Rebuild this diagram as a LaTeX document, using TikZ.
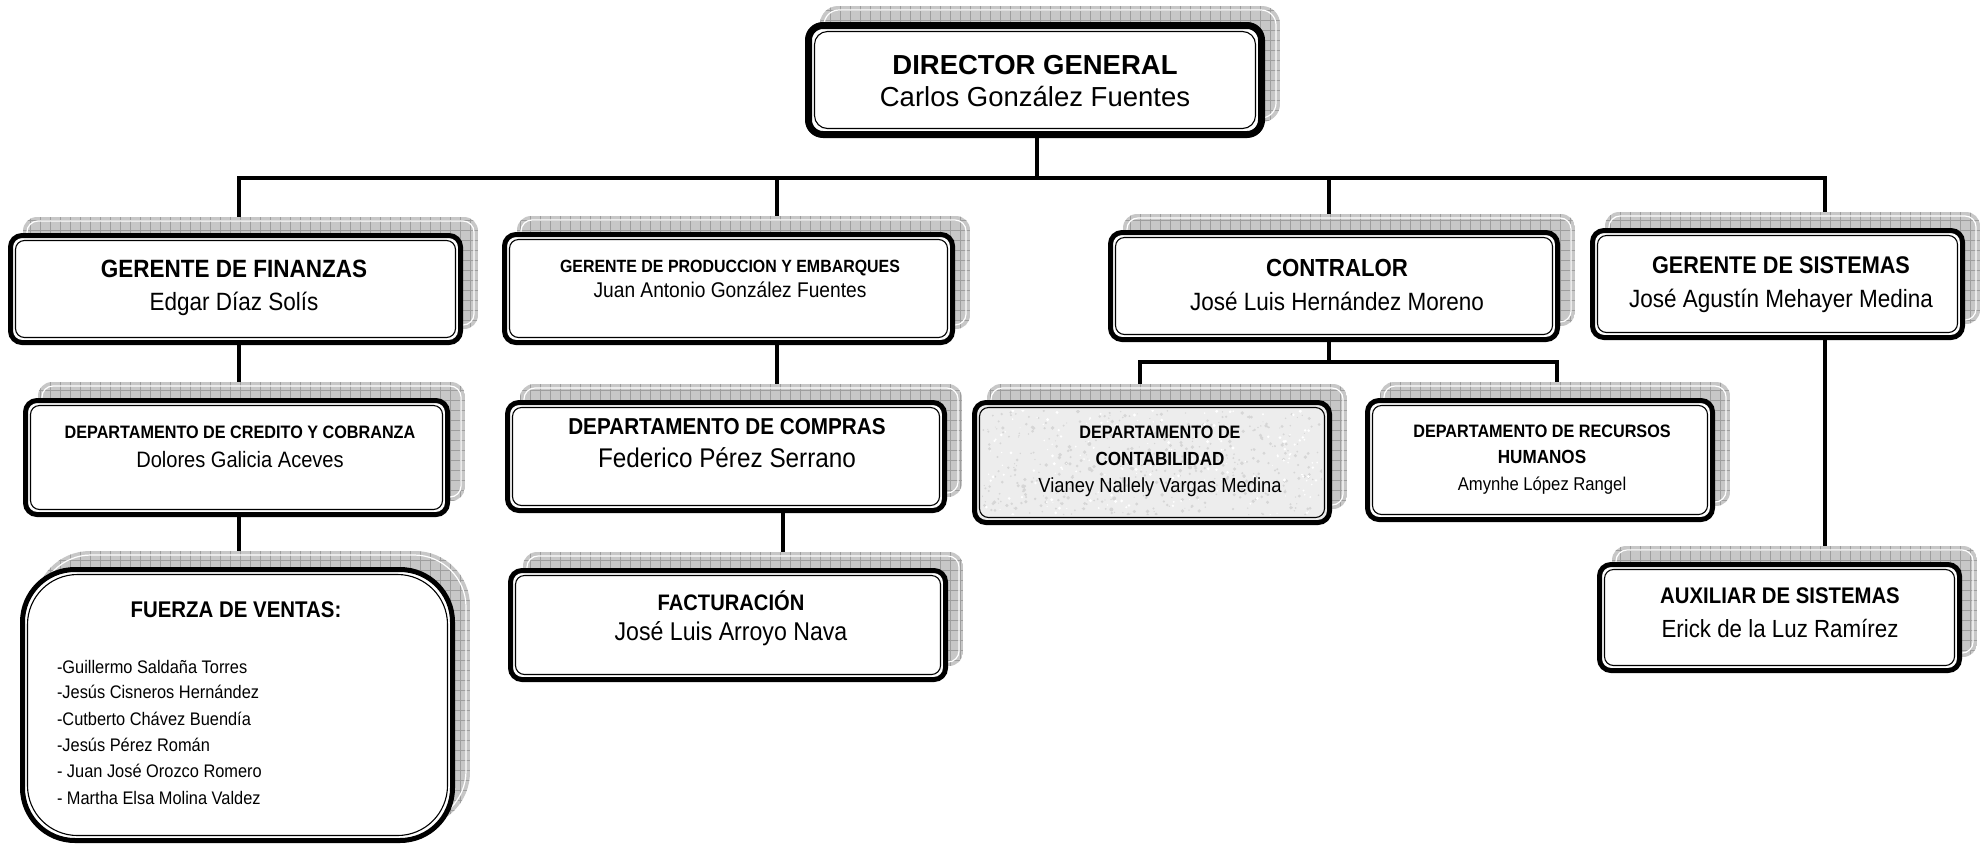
\documentclass[tikz,border=0pt]{standalone}
\usepackage{fontspec}
\setmainfont{Liberation Sans}
\newfontfamily\narrow{Liberation Sans}[FakeStretch=0.9]
\pgfdeclarelayer{bg}
\pgfdeclarelayer{back}
\pgfsetlayers{bg,back,main}
\tikzset{
  obox/.style={draw=black, shape=rectangle, inner sep=0pt, outer sep=0pt},
  conn/.style={draw=black, line width=4},
  txt/.style={anchor=base, inner sep=0pt, outer sep=0pt, font=\narrow},
  ltxt/.style={anchor=base west, inner sep=0pt, outer sep=0pt, font=\narrow},
}
% #1 name, #2 x1, #3 y1, #4 x2, #5 y2, #6 radius, #7 outer line width, #8 fill
\newcommand\orgbox[8]{%
  \begin{scope}
    \clip[rounded corners=#6] ({#2+15},{#3-16}) rectangle ({#4+15},{#5-16});
    \fill[black!22] ({#2+15},{#3-16}) rectangle ({#4+15},{#5-16});
    \draw[black!38, line width=0.7, step=10pt] ({#2+15},{#3-16}) grid ({#4+15},{#5-16});
    \draw[white, line width=1.2, rounded corners={#6-3}] ({#2+19},{#3-12}) rectangle ({#4+11},{#5-20});
  \end{scope}
  \node[obox, line width=#7, rounded corners={#6-#7/2}, fill=#8,
        minimum width={#4-#2-#7}, minimum height={#5-#3-#7}] (#1) at ({(#2+#4)/2},{(#3+#5)/2}) {};
  \draw[line width=1.1, rounded corners={#6-5}]
     ([shift={(#7/2+2.5,#7/2+2.5)}]#1.north west) rectangle ([shift={(-#7/2-2.5,-#7/2-2.5)}]#1.south east);
}
\begin{document}
\begin{tikzpicture}[x=1pt,y=-1pt]
\useasboundingbox (0,0) rectangle (1983,847);
\begin{pgfonlayer}{bg}
\fill[white] (0,0) rectangle (1983,847);
\end{pgfonlayer}

% boxes
\orgbox{dir}{805}{22}{1265}{138}{18}{7}{white}
\orgbox{fin}{8}{233}{463}{345}{14}{5}{white}
\orgbox{prod}{502}{232}{955}{345}{14}{5}{white}
\orgbox{contr}{1108}{230}{1560}{342}{14}{5}{white}
\orgbox{sis}{1590}{228}{1965}{340}{14}{5}{white}
\orgbox{cred}{23}{398}{450}{517}{14}{5}{white}
\orgbox{comp}{505}{400}{947}{513}{14}{5}{white}
\orgbox{contab}{972}{400}{1332}{525}{14}{5}{black!7}
\begin{scope}
  \clip[rounded corners=8] (982,410) rectangle (1322,515);
  \pgfmathsetseed{7}
  \foreach \i in {1,...,450}{\fill[black!16] ({982+rnd*340},{410+rnd*105}) circle ({0.5+rnd*1.5});}
  \foreach \i in {1,...,200}{\fill[white] ({982+rnd*340},{410+rnd*105}) circle ({0.5+rnd*1.2});}
\end{scope}
\orgbox{rh}{1365}{398}{1715}{522}{14}{5}{white}
\orgbox{fact}{508}{568}{948}{682}{14}{5}{white}
\orgbox{aux}{1597}{562}{1962}{673}{14}{5}{white}
\orgbox{fv}{20}{567}{455}{843}{55}{5}{white}

% connector coordinates
\coordinate (bD) at (1037,178);
\coordinate (bF) at (239,178);
\coordinate (bP) at (777,178);
\coordinate (bC) at (1329,178);
\coordinate (bS) at (1825,178);
\coordinate (kA) at (1140,362);
\coordinate (kB) at (1557,362);
\coordinate (kC) at (1329,362);
\coordinate (xF) at (783,600);

\begin{pgfonlayer}{back}
  \draw[conn] (bD |- dir.south) -- (bD);
  \draw[conn] (bF |- fin.north) -- (bF) -- (bS) -- (bS |- sis.north);
  \draw[conn] (bP) -- (bP |- prod.north);
  \draw[conn] (bC) -- (bC |- contr.north);
  \draw[conn] (bF |- fin.south) -- (bF |- cred.north);
  \draw[conn] (bF |- cred.south) -- (bF |- fv.north);
  \draw[conn] (bP |- prod.south) -- (bP |- comp.north);
  \draw[conn] (xF |- comp.south) -- (xF |- fact.north);
  \draw[conn] (kC |- contr.south) -- (kC);
  \draw[conn] (kA |- contab.north) -- (kA) -- (kB) -- (kB |- rh.north);
  \draw[conn] (bS |- sis.south) -- (bS |- aux.north);
\end{pgfonlayer}

% texts
\node[txt, font=\rmfamily\bfseries\fontsize{27.5}{30}\selectfont] (dir-a) at (1035,74) {DIRECTOR GENERAL};
\node[txt, font=\rmfamily\fontsize{27.5}{30}\selectfont] (dir-b) at (1035,106) {Carlos González Fuentes};

\node[txt, font=\narrow\bfseries\fontsize{25}{30}\selectfont] (fin-a) at (234,277) {GERENTE DE FINANZAS};
\node[txt, font=\narrow\fontsize{25}{30}\selectfont] (fin-b) at (234,310) {Edgar Díaz Solís};

\node[txt, font=\narrow\bfseries\fontsize{17.7}{20}\selectfont] (prod-a) at (730,272) {GERENTE DE PRODUCCION Y EMBARQUES};
\node[txt, font=\narrow\fontsize{21.3}{24}\selectfont] (prod-b) at (730,297) {Juan Antonio González Fuentes};

\node[txt, font=\narrow\bfseries\fontsize{24.7}{30}\selectfont] (contr-a) at (1337,276) {CONTRALOR};
\node[txt, font=\narrow\fontsize{25}{30}\selectfont] (contr-b) at (1337,310) {José Luis Hernández Moreno};

\node[txt, font=\narrow\bfseries\fontsize{24.1}{30}\selectfont] (sis-a) at (1781,273) {GERENTE DE SISTEMAS};
\node[txt, font=\narrow\fontsize{25}{30}\selectfont] (sis-b) at (1781,307) {José Agustín Mehayer Medina};

\node[txt, font=\narrow\bfseries\fontsize{18}{22}\selectfont] (cred-a) at (240,438) {DEPARTAMENTO DE CREDITO Y COBRANZA};
\node[txt, font=\narrow\fontsize{22.3}{26}\selectfont] (cred-b) at (240,467) {Dolores Galicia Aceves};

\node[txt, font=\narrow\bfseries\fontsize{23}{30}\selectfont] (comp-a) at (727,434) {DEPARTAMENTO DE COMPRAS};
\node[txt, font=\narrow\fontsize{27}{30}\selectfont] (comp-b) at (727,467) {Federico Pérez Serrano};

\node[txt, font=\narrow\bfseries\fontsize{18}{22}\selectfont] (contab-a) at (1160,438) {DEPARTAMENTO DE};
\node[txt, font=\narrow\bfseries\fontsize{19}{22}\selectfont] (contab-b) at (1160,465) {CONTABILIDAD};
\node[txt, font=\narrow\fontsize{20.4}{24}\selectfont] (contab-c) at (1160,492) {Vianey Nallely Vargas Medina};

\node[txt, font=\narrow\bfseries\fontsize{18}{22}\selectfont] (rh-a) at (1542,437) {DEPARTAMENTO DE RECURSOS};
\node[txt, font=\narrow\bfseries\fontsize{19}{22}\selectfont] (rh-b) at (1542,463) {HUMANOS};
\node[txt, font=\narrow\fontsize{18.5}{22}\selectfont] (rh-c) at (1542,490) {Amynhe López Rangel};

\node[txt, font=\narrow\bfseries\fontsize{22.4}{26}\selectfont] (fact-a) at (731,610) {FACTURACIÓN};
\node[txt, font=\narrow\fontsize{25.7}{30}\selectfont] (fact-b) at (731,640) {José Luis Arroyo Nava};

\node[txt, font=\narrow\bfseries\fontsize{22.6}{26}\selectfont] (aux-a) at (1780,603) {AUXILIAR DE SISTEMAS};
\node[txt, font=\narrow\fontsize{24.8}{30}\selectfont] (aux-b) at (1780,637) {Erick de la Luz Ramírez};

\node[txt, font=\narrow\bfseries\fontsize{22.7}{26}\selectfont] (fv-a) at (236,617) {FUERZA DE VENTAS:};
\node[ltxt, font=\narrow\fontsize{18.2}{22}\selectfont] (fv-1) at (57,673) {-Guillermo Saldaña Torres};
\node[ltxt, font=\narrow\fontsize{18.2}{22}\selectfont] (fv-2) at (57,698) {-Jesús Cisneros Hernández};
\node[ltxt, font=\narrow\fontsize{18.2}{22}\selectfont] (fv-3) at (57,725) {-Cutberto Chávez Buendía};
\node[ltxt, font=\narrow\fontsize{18.2}{22}\selectfont] (fv-4) at (57,751) {-Jesús Pérez Román};
\node[ltxt, font=\narrow\fontsize{18.2}{22}\selectfont] (fv-5) at (57,777) {- Juan José Orozco Romero};
\node[ltxt, font=\narrow\fontsize{18.2}{22}\selectfont] (fv-6) at (57,804) {- Martha Elsa Molina Valdez};
\end{tikzpicture}
\end{document}
